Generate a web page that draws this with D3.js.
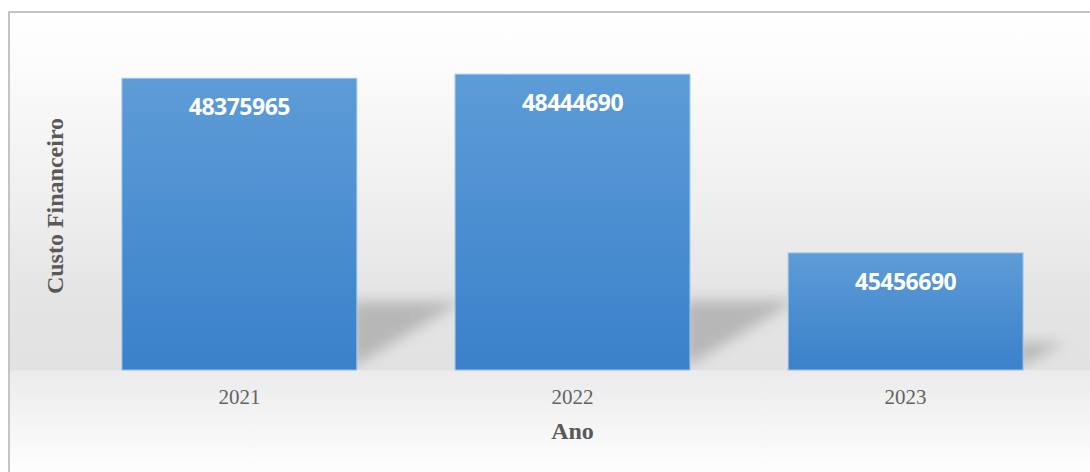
<!DOCTYPE html>
<html>
<head>
<meta charset="utf-8">
<script src="https://cdn.jsdelivr.net/npm/d3@7"></script>
<style>
  html, body { margin: 0; padding: 0; background: #ffffff; }
  svg { display: block; }
</style>
</head>
<body>
<svg id="chart" width="1090" height="472"></svg>
<script>
// Custo financeiro por ano
const years = ["2021", "2022", "2023"];
const costs = [48375965, 48444690, 45456690];
const yDomain = [43500000, 49000000];

const W = 1090, H = 472;
const plot = { left: 73, right: 1072, top: 41, bottom: 370 };

const svg = d3.select("#chart");
const defs = svg.append("defs");

// chart area background: white at the top, grey floor band, fading out below
const bg = defs.append("linearGradient")
  .attr("id", "bgGrad").attr("gradientUnits", "userSpaceOnUse")
  .attr("x1", 0).attr("y1", 12).attr("x2", 0).attr("y2", 472);
[[12, "#ffffff"], [60, "#fcfcfc"], [200, "#efefef"], [300, "#e4e4e4"],
 [369, "#e2e2e2"], [371, "#ebebeb"], [472, "#fefefe"]]
  .forEach(([yy, c]) => bg.append("stop").attr("offset", (yy - 12) / 460).attr("stop-color", c));

const barGrad = defs.append("linearGradient")
  .attr("id", "barGrad").attr("x1", 0).attr("y1", 0).attr("x2", 0).attr("y2", 1);
barGrad.append("stop").attr("offset", 0).attr("stop-color", "#5d9cd7");
barGrad.append("stop").attr("offset", 1).attr("stop-color", "#3a81ca");

defs.append("filter").attr("id", "soft")
  .attr("x", "-40%").attr("y", "-40%").attr("width", "180%").attr("height", "180%")
  .append("feGaussianBlur").attr("stdDeviation", 7);

svg.append("rect")
  .attr("x", 9).attr("y", 12).attr("width", W).attr("height", H)
  .attr("fill", "url(#bgGrad)")
  .attr("stroke", "#c4c4c4").attr("stroke-width", 2);

const x = d3.scaleBand().domain(years).range([plot.left, plot.right]).paddingInner(0.295).paddingOuter(0.147);
const y = d3.scaleLinear().domain(yDomain).range([plot.bottom, plot.top]);

const data = years.map((yr, i) => ({ year: yr, value: costs[i] }));

// cast shadows on the floor behind each bar
const shadowClip = defs.append("clipPath").attr("id", "floorClip");
shadowClip.append("rect").attr("x", 0).attr("y", 0).attr("width", W).attr("height", plot.bottom);

svg.append("g").attr("clip-path", "url(#floorClip)")
  .selectAll("path").data(data).join("path")
  .attr("d", d => {
    const x0 = x(d.year) + x.bandwidth();
    const h = plot.bottom - y(d.value);
    const top = plot.bottom - h * 0.235;
    return `M${x0 - 6},${top} L${x0 + h * 0.36},${top} L${x0 - 6},${plot.bottom - 2} Z`;
  })
  .attr("fill", "#9a9a9a")
  .attr("opacity", 0.6)
  .attr("filter", "url(#soft)");

svg.append("g").selectAll("rect").data(data).join("rect")
  .attr("x", d => x(d.year))
  .attr("y", d => y(d.value))
  .attr("width", x.bandwidth())
  .attr("height", d => plot.bottom - y(d.value))
  .attr("fill", "url(#barGrad)")
  .attr("stroke", "#9cc2e8").attr("stroke-width", 1);

// value labels inside the bars
svg.append("g").selectAll("text").data(data).join("text")
  .attr("x", d => x(d.year) + x.bandwidth() / 2)
  .attr("y", d => y(d.value) + 37)
  .attr("text-anchor", "middle")
  .attr("font-family", "'Open Sans', sans-serif")
  .attr("font-weight", 700)
  .attr("font-size", 23)
  .attr("letter-spacing", -0.5)
  .attr("fill", "#ffffff")
  .text(d => d.value);

// category axis
const xAxis = svg.append("g")
  .attr("transform", `translate(0,${plot.bottom})`)
  .call(d3.axisBottom(x).tickSize(0).tickPadding(34));
xAxis.select(".domain").remove();
xAxis.selectAll("text")
  .attr("font-family", "'Liberation Serif', serif")
  .attr("font-size", 21)
  .attr("fill", "#636363")
  .attr("dy", 0);

svg.append("text")
  .attr("x", (plot.left + plot.right) / 2)
  .attr("y", 439)
  .attr("text-anchor", "middle")
  .attr("font-family", "'Liberation Serif', serif")
  .attr("font-weight", 700)
  .attr("font-size", 24)
  .attr("fill", "#595959")
  .text("Ano");

svg.append("text")
  .attr("transform", "translate(63,206) rotate(-90)")
  .attr("text-anchor", "middle")
  .attr("font-family", "'Liberation Serif', serif")
  .attr("font-weight", 700)
  .attr("font-size", 24)
  .attr("fill", "#595959")
  .text("Custo Financeiro");
</script>
</body>
</html>
